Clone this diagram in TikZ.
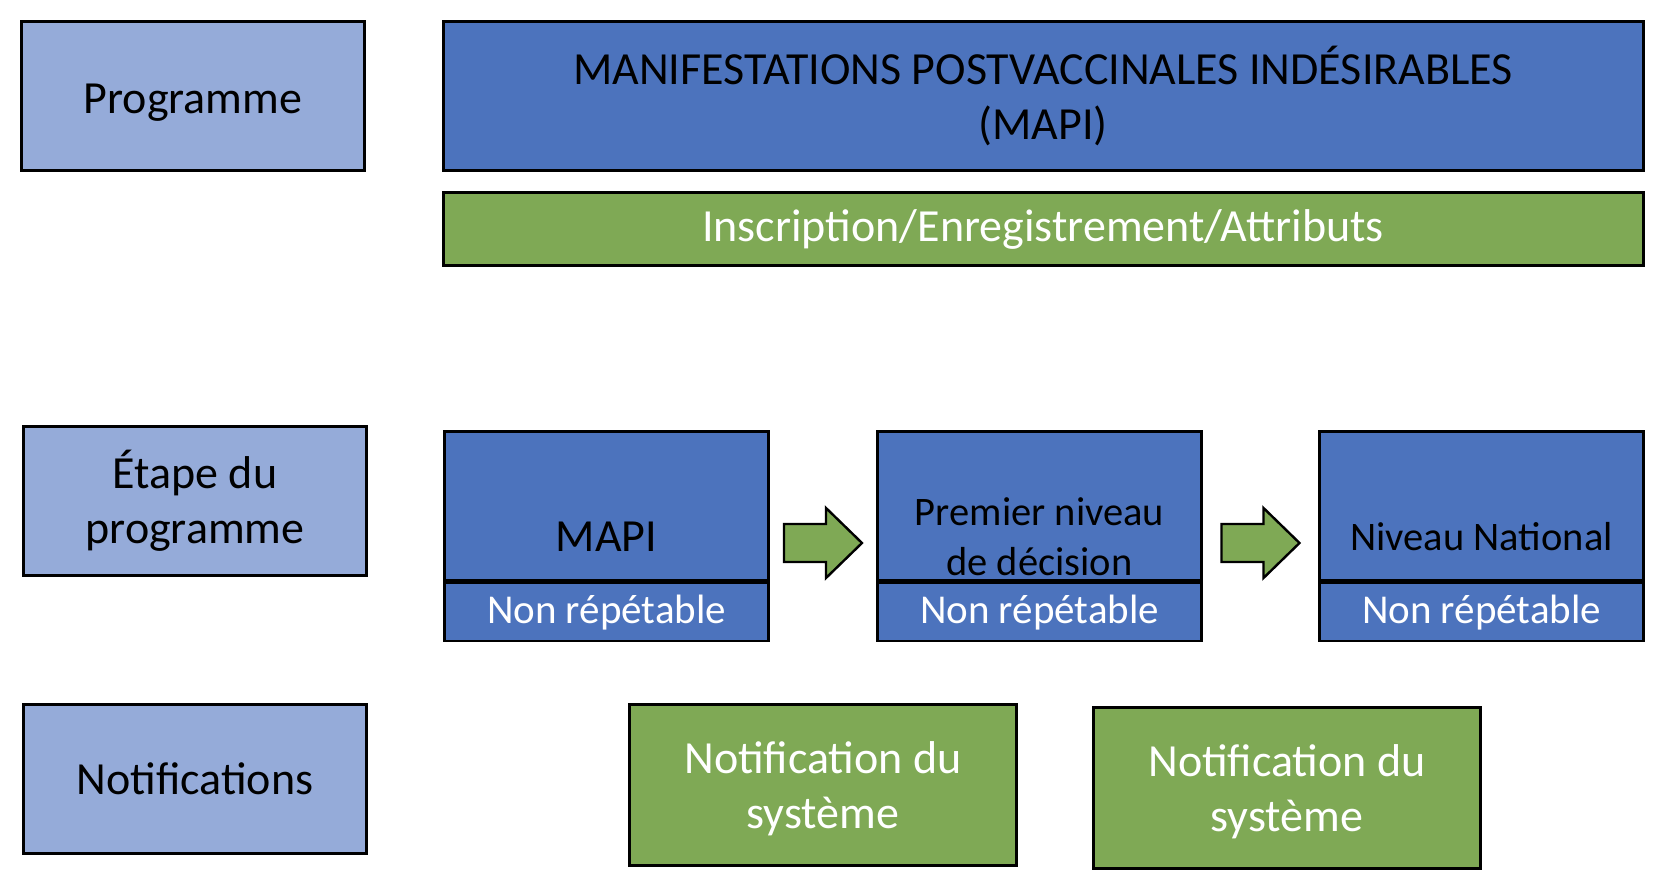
\documentclass[tikz,border=0pt]{standalone}
\usepackage{fontspec}
\setmainfont{Carlito}
\usetikzlibrary{positioning,calc}
\definecolor{paleblue}{RGB}{149,171,217}
\definecolor{deepblue}{RGB}{76,115,189}
\definecolor{leafgreen}{RGB}{127,169,85}

\begin{document}
\begin{tikzpicture}[x=1pt,y=-1pt,
  cell/.style={draw=black,line width=3pt,inner sep=0pt,align=center,
    font=\fontsize{46}{55}\selectfont},
  side/.style={cell,fill=paleblue,minimum width=343pt,minimum height=149pt},
  stagetop/.style={cell,fill=deepblue,minimum width=324pt,minimum height=149pt},
  stagebot/.style={cell,fill=deepblue,text=white,minimum width=324pt,minimum height=58pt,
    line width=2.4pt,font=\fontsize{41}{50}\selectfont},
  stagetext/.style={align=center,inner sep=0pt,font=\fontsize{40.5}{50}\selectfont},
  sysnote/.style={cell,fill=leafgreen,text=white,text depth=0pt,minimum width=387pt,minimum height=161pt}]
  \useasboundingbox (0,0) rectangle (1670,890);

  % left column
  \node[side,text height=36pt,text depth=0pt] (prog) at (193,96) {Programme};
  \node[side] (etape) at (195,501) {Étape du\\programme};
  \node[side] (notif) at (195,779) {Notifications};

  % programme header
  \node[cell,fill=deepblue,minimum width=1200pt,minimum height=149pt] (mapihead) at (1043,96)
    {MANIFESTATIONS POSTVACCINALES INDÉSIRABLES\\(MAPI)};
  \node[cell,fill=leafgreen,text=white,minimum width=1200pt,minimum height=73pt,below=19pt of mapihead]
    (inscr) {Inscription/Enregistrement/Attributs};

  % program stages
  \foreach \n/\x/\t in {s1/443/{\fontsize{46}{55}\selectfont MAPI}, s2/876/{Premier niveau\\de décision},
      s3/1318/Niveau National}{
    \node[stagetop,anchor=north west] (\n) at (\x,430) {};
    \node[stagetext] (\n t) at ([yshift=-31pt]\n.center) {\t};
    \node[stagebot,anchor=north] (\n b) at (\n.south) {Non répétable};
  }

  % block arrows between the stages
  \def\prev{s1}
  \foreach \curr in {s2,s3}{
    \coordinate (\prev a) at ($(\prev.east)!0.5!(\curr.west)+(0,37)$);
    \draw[fill=leafgreen,line width=2.4pt,line join=miter] (\prev a) ++(-39,-19) -- ++(42,0) -- ++(0,-16)
      -- ++(36,35) -- ++(-36,35) -- ++(0,-16) -- ++(-42,0) -- cycle;
    \xdef\prev{\curr}
  }

  % notifications
  \node[sysnote] (note1) at (823,785) {Notification du\\système};
  \node[sysnote] (note2) at (1287,788) {Notification du\\système};
\end{tikzpicture}
\end{document}
